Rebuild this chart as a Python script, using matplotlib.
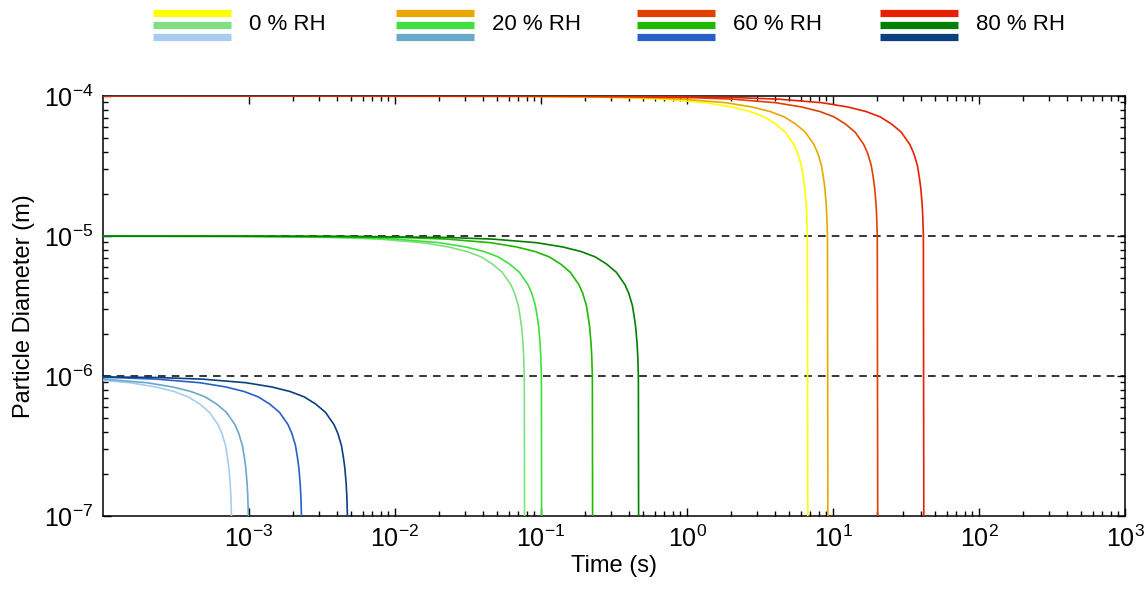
import numpy as np
import matplotlib
matplotlib.use("Agg")
import matplotlib.pyplot as plt
from matplotlib.lines import Line2D
from matplotlib.ticker import FixedLocator, LogFormatterMathtext, NullFormatter

plt.rcParams['font.family'] = ['Liberation Sans', 'DejaVu Sans']
plt.rcParams['mathtext.default'] = 'regular'

# relative humidity groups (legend order)
rh_labels = ['0 % RH', '20 % RH', '60 % RH', '80 % RH']

# colours per group, for initial diameters 1e-4, 1e-5, 1e-6 m
colors_100um = ['#FFFF00', '#E8A800', '#E04000', '#E82000']
colors_10um = ['#80E080', '#40E040', '#20B800', '#008000']
colors_1um = ['#A8CCF0', '#68A8C8', '#2860C8', '#0A4080']

initial_diam = [1e-4, 1e-5, 1e-6]

# evaporation times (s) read where each curve hits the bottom of the plot
life_100um = [6.74, 9.25, 20.3, 42.0]
life_10um = [0.0776, 0.1016, 0.227, 0.469]
life_1um = [7.66e-4, 1.0e-3, 2.31e-3, 4.77e-3]

# shape of the curves: time / lifetime vs diameter / initial
t_frac = [1e-6, 0.01, 0.05, 0.1, 0.2, 0.3, 0.4, 0.5, 0.6, 0.7, 0.8, 0.85,
          0.9, 0.93, 0.95, 0.97, 0.98, 0.99, 1.0]
d_frac = [1.0, 0.995, 0.975, 0.95, 0.895, 0.835, 0.775, 0.71, 0.63, 0.55,
          0.45, 0.39, 0.32, 0.26, 0.22, 0.17, 0.14, 0.10, 0.0001]

x_major = [1e-3, 1e-2, 1e-1, 1e0, 1e1, 1e2, 1e3]
y_major = [1e-7, 1e-6, 1e-5, 1e-4]

fig = plt.figure(figsize=(11.46, 5.97), dpi=100)
ax = fig.add_axes([0.0899, 0.1357, 0.8918, 0.7035])

for y in [1e-5, 1e-6]:
    ax.axhline(y, color='black', lw=1.1, ls=(0, (5, 4)), zorder=1)

groups = [(initial_diam[0], life_100um, colors_100um),
          (initial_diam[1], life_10um, colors_10um),
          (initial_diam[2], life_1um, colors_1um)]
tf = np.array(t_frac)
df = np.array(d_frac)
for d0, lives, cols in groups:
    for tau, c in zip(lives, cols):
        ax.plot(tau * tf, d0 * df, color=c, lw=1.2, zorder=3)

ax.set_xscale('log')
ax.set_yscale('log')
ax.set_xlim(1e-4, 1e3)
ax.set_ylim(1e-7, 1e-4)

ax.xaxis.set_major_locator(FixedLocator(x_major))
x_minor = [m * 10.0 ** e for e in range(-3, 3) for m in range(2, 10)]
ax.xaxis.set_minor_locator(FixedLocator(x_minor))
ax.xaxis.set_major_formatter(LogFormatterMathtext())
ax.xaxis.set_minor_formatter(NullFormatter())
ax.yaxis.set_major_locator(FixedLocator(y_major))
y_minor = [m * 10.0 ** e for e in range(-7, -4) for m in range(2, 10)]
ax.yaxis.set_minor_locator(FixedLocator(y_minor))
ax.yaxis.set_major_formatter(LogFormatterMathtext())
ax.yaxis.set_minor_formatter(NullFormatter())

ax.tick_params(which='both', direction='in', top=True, right=True, width=1.0,
               labelsize=18, color='black')
ax.tick_params(which='major', length=6, pad=7)
ax.tick_params(which='minor', length=3.5)
for s in ax.spines.values():
    s.set_linewidth(1.1)

ax.set_xlabel('Time (s)', fontsize=17, labelpad=2)
ax.set_ylabel('Particle Diameter (m)', fontsize=17, labelpad=6)

# legend drawn at the top of the figure
W, H = 1146.0, 597.0
line_x0 = [153, 396, 637, 880]
bar_y = [13, 25, 37]
for i, lab in enumerate(rh_labels):
    x0 = line_x0[i] / W
    x1 = (line_x0[i] + 78) / W
    for yy, c in zip(bar_y, [colors_100um[i], colors_10um[i], colors_1um[i]]):
        fig.add_artist(Line2D([x0, x1], [1 - yy / H, 1 - yy / H], color=c,
                              lw=5.2, solid_capstyle='butt'))
    fig.text((line_x0[i] + 96) / W, 1 - 25 / H, lab, fontsize=16,
             va='center', ha='left')

fig.savefig('out.png', dpi=100)
